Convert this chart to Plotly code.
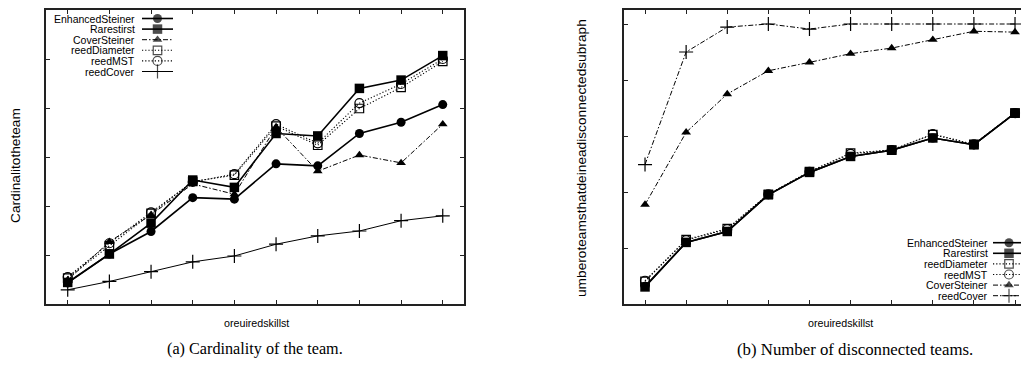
import plotly.graph_objects as go

# The page body has a default 8px margin, so the figure is drawn 8px smaller
# and every reference pixel position is shifted by that offset.
OX, OY = 8, 8
W, H = 1029 - OX, 370 - OY

# ---------------- data ----------------
x_steps = [1, 2, 3, 4, 5, 6, 7, 8, 9, 10]

# (a) cardinality of the team
card_enhanced = [4.3, 10.2, 14.8, 21.7, 21.4, 28.6, 28.2, 34.8, 37.1, 40.7]
card_rarest = [4.4, 10.2, 16.5, 25.3, 23.8, 34.8, 34.3, 44.0, 45.7, 50.7]
card_cover_steiner = [4.9, 12.7, 18.2, 24.5, 22.4, 36.1, 27.1, 30.4, 28.8, 36.7]
card_greedy_diam = [5.3, 11.9, 18.5, 25.0, 26.3, 36.3, 32.4, 39.9, 44.2, 49.5]
card_greedy_mst = [5.5, 12.4, 18.7, 24.9, 26.5, 36.7, 32.8, 41.0, 44.9, 50.0]
card_greedy_cover = [2.9, 4.6, 6.6, 8.6, 9.8, 12.2, 13.9, 14.9, 17.0, 18.0]

# (b) number of disconnected teams
disc_enhanced = [6.3, 22.0, 25.9, 39.0, 47.0, 52.7, 54.9, 59.3, 56.9, 68.2]
disc_rarest = [6.1, 22.0, 25.9, 39.0, 47.0, 52.7, 54.9, 59.3, 56.9, 68.2]
disc_greedy_diam = [8.1, 23.0, 26.9, 39.2, 47.3, 53.9, 55.0, 60.5, 57.0, 68.2]
disc_greedy_mst = [8.3, 22.8, 26.7, 39.2, 47.2, 53.6, 55.0, 60.7, 57.0, 68.2]
disc_cover_steiner = [35.5, 61.3, 75.0, 83.3, 86.3, 89.4, 91.4, 94.4, 97.4, 97.1]
disc_greedy_cover = [49.8, 90.0, 98.9, 100.0, 98.2, 100.0, 100.0, 100.0, 100.0, 100.0]

names_a = ["EnhancedSteiner", "Rarestirst", "CoverSteiner", "reedDiameter", "reedMST", "reedCover"]
names_b = ["EnhancedSteiner", "Rarestirst", "reedDiameter", "reedMST", "CoverSteiner", "reedCover"]

y_title_a = "Cardinalitotheteam"
y_title_b = "umberoteamsthatdeineadisconnectedsubraph"
x_title = "oreuiredskillst"
caption_a = "(a) Cardinality of the team."
caption_b = "(b) Number of disconnected teams."

# ---------------- styles ----------------
DASHDOT = "5px,2px,1.5px,2px"
DOT = "1.2px,2px"
STY = {
    "EnhancedSteiner": dict(dash="solid", lw=1.6, sym="circle", ms=9, mlw=0),
    "Rarestirst": dict(dash="solid", lw=1.6, sym="square", ms=9.5, mlw=0),
    "CoverSteiner": dict(dash=DASHDOT, lw=1.0, sym="triangle-up", ms=8.5, mlw=0),
    "reedDiameter": dict(dash=DOT, lw=1.1, sym="square-open", ms=8.5, mlw=1.2),
    "reedMST": dict(dash=DOT, lw=1.1, sym="circle-open", ms=9, mlw=1.2),
    "reedCover": dict(dash="solid", lw=1.0, sym="cross-thin", ms=10, mlw=1.2),
}
STY_B = dict(STY)
STY_B["reedCover"] = dict(dash=DASHDOT, lw=1.0, sym="cross-thin", ms=10, mlw=1.2)

fig = go.Figure()


def add_series(xa, ya, name, yvals, sty):
    fig.add_trace(go.Scatter(
        x=x_steps, y=yvals, xaxis=xa, yaxis=ya, mode="lines+markers",
        name=name, showlegend=False, cliponaxis=False,
        line=dict(color="black", width=sty["lw"], dash=sty["dash"]),
        marker=dict(symbol=sty["sym"], size=sty["ms"], color="black",
                    line=dict(color="black", width=sty["mlw"])),
    ))


series_a = [card_enhanced, card_rarest, card_cover_steiner, card_greedy_diam, card_greedy_mst, card_greedy_cover]
for nm, vals in zip(names_a, series_a):
    add_series("x", "y", nm, vals, STY[nm])

series_b = [disc_enhanced, disc_rarest, disc_greedy_diam, disc_greedy_mst, disc_cover_steiner, disc_greedy_cover]
for nm, vals in zip(names_b, series_b):
    add_series("x2", "y2", nm, vals, STY_B[nm])


def px(x):
    return (x - OX) / W


def py(y):
    return 1 - (y - OY) / H


# ---------------- legends (gnuplot style: text left, key right) ----------------
annotations = []
FONT = "Liberation Sans, Arial, sans-serif"


def add_legend(names, styles, text_right, key_x0, key_x1, y0, step):
    for i, nm in enumerate(names):
        y = y0 + i * step
        s = styles[nm]
        fig.add_trace(go.Scatter(
            x=[key_x0 - OX, (key_x0 + key_x1) / 2 - OX, key_x1 - OX],
            y=[y - OY] * 3,
            xaxis="x3", yaxis="y3", mode="lines+markers", showlegend=False,
            hoverinfo="skip", cliponaxis=False,
            line=dict(color="black", width=s["lw"], dash=s["dash"]),
            marker=dict(symbol=s["sym"], size=[0, s["ms"], 0], color="black",
                        line=dict(color="black", width=s["mlw"])),
        ))
        annotations.append(dict(
            text=nm, x=px(text_right), y=py(y), xref="paper", yref="paper",
            xanchor="right", yanchor="middle", showarrow=False,
            font=dict(family=FONT, size=10.5, color="black"),
        ))


add_legend(names_a, STY, 137, 142, 173, 18.5, 10.6)
add_legend(names_b, STY_B, 990, 993, 1025, 242.7, 10.6)


# ---------------- titles ----------------
def ann(text, x, y, size, angle=0, family=FONT):
    annotations.append(dict(
        text=text, x=px(x), y=py(y), xref="paper", yref="paper",
        xanchor="center", yanchor="middle", showarrow=False, textangle=angle,
        font=dict(family=family, size=size, color="black"),
    ))


ann(y_title_a, 15, 166, 13.7, -90)
ann(y_title_b, 582, 158, 13.7, -90)
ann(x_title, 256, 323, 10.7)
ann(x_title, 840, 323, 10.7)
SERIF = "Liberation Serif, DejaVu Serif, serif"
ann(caption_a, 255, 349, 16.2, family=SERIF)
ann(caption_b, 855, 349, 16.8, family=SERIF)

# ---------------- axes ----------------
ydom = [py(304), py(10)]
common_x = dict(showgrid=False, zeroline=False, showticklabels=False, ticks="inside",
                ticklen=4, tickcolor="#222", tickwidth=1, showline=True,
                linecolor="#222", linewidth=1.5, tickmode="linear", tick0=1, dtick=1)
common_y = dict(showgrid=False, zeroline=False, showticklabels=False, ticks="inside",
                ticklen=4, tickcolor="#222", tickwidth=1, showline=True,
                linecolor="#222", linewidth=1.5, tickmode="linear", tick0=0)

fig.update_layout(
    width=W, height=H, margin=dict(l=0, r=0, t=0, b=0),
    paper_bgcolor="white", plot_bgcolor="rgba(0,0,0,0)", showlegend=False,
    xaxis=dict(common_x, domain=[px(46), px(464)], range=[0.479, 10.51], mirror="ticks", anchor="y"),
    yaxis=dict(common_y, domain=ydom, range=[0, 60], dtick=10, mirror="ticks", anchor="x"),
    xaxis2=dict(common_x, domain=[px(624.3), 1.0], range=[0.496, 10.34], mirror="ticks", anchor="y2"),
    yaxis2=dict(common_y, domain=ydom, range=[0, 105], dtick=20, mirror=False, anchor="x2"),
    xaxis3=dict(domain=[0, 1], range=[0, W], visible=False, anchor="y3"),
    yaxis3=dict(domain=[0, 1], range=[H, 0], visible=False, anchor="x3"),
    annotations=annotations,
)

fig.write_html("out.html")
